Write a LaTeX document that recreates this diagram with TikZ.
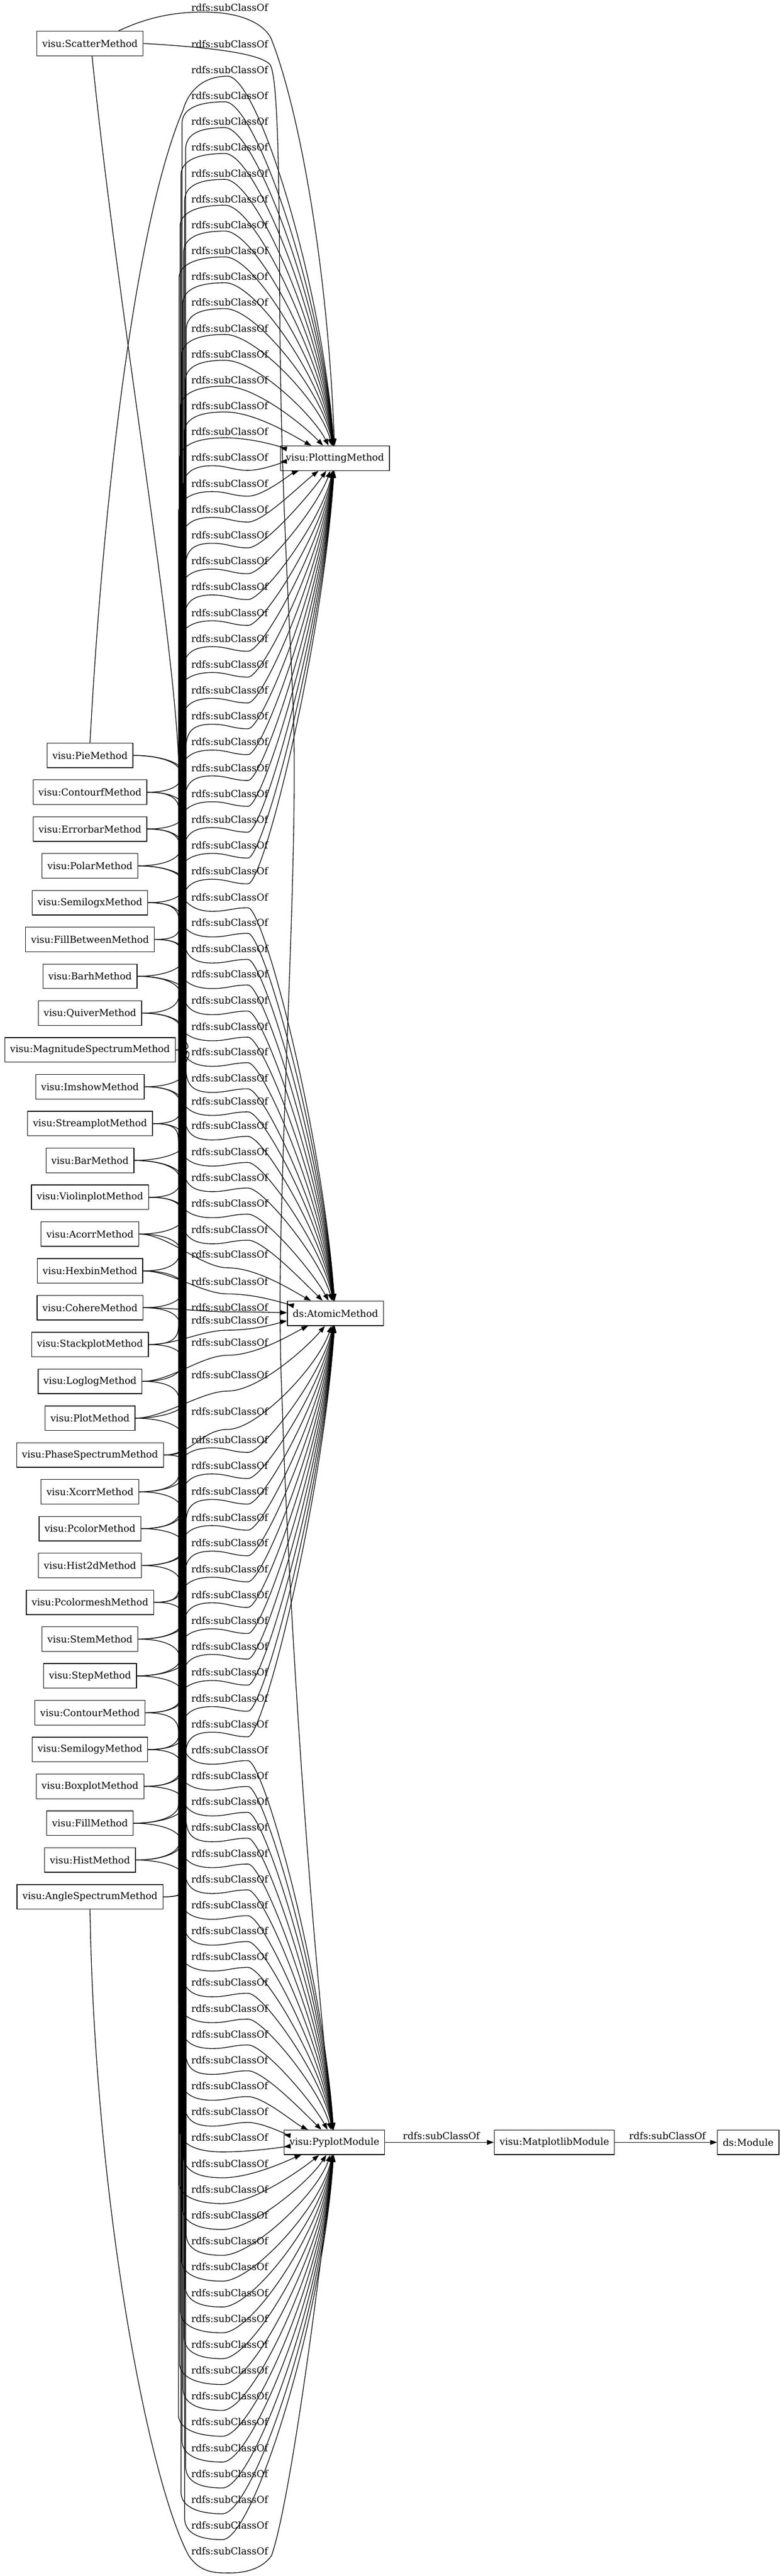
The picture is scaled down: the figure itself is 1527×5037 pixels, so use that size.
\documentclass[tikz,border=0pt]{standalone}
\usepackage{fontspec}
\setmainfont{DejaVu Serif}
\usetikzlibrary{arrows.meta,calc}
% #1 source node, #2 source y, #3 label y, #4 target node, #5 target y, #6 bundle x
% edge that climbs the bundle (its label lies above the source)
\newcommand{\upedge}[6]{%
  \pgfmathsetmacro\gdz{#5-#3-14}%
  \ifdim\gdz pt<0pt
    \pgfmathsetmacro\gyA{#3+16}%
  \else
    \pgfmathsetmacro\gyA{#3+12}%
  \fi
  \pgfmathsetmacro\gdy{#5-\gyA}%
  \pgfmathsetmacro\gcx{630-80*max(0,1-abs(\gdy)/250)}%
  \pgfmathsetmacro\gcy{#5-0.45*\gdy}%
  \ifdim\gdz pt<0pt
    \draw[rel] (#1.east) .. controls +(45,0) and (#6,#2-12) .. (#6,#2-36) -- (#6,\gyA+40) .. controls (#6+2,\gyA+12) and (380,\gyA) .. (415,\gyA) .. controls (445,\gyA) and (455,\gyA+9) .. (485,\gyA+9) .. controls (515,\gyA+9) and (\gcx,\gcy) .. (#4);%
  \else
    \draw[rel] (#1.east) .. controls +(45,0) and (#6,#2-12) .. (#6,#2-36) -- (#6,\gyA+40) .. controls (#6+2,\gyA+12) and (390,\gyA) .. (440,\gyA) .. controls (500,\gyA) and (\gcx,\gcy) .. (#4);%
  \fi
}
% edge that descends the bundle (its label lies below the source)
\newcommand{\downedge}[6]{%
  \pgfmathsetmacro\gyA{#3+28}%
  \pgfmathsetmacro\gdy{#5-\gyA}%
  \pgfmathsetmacro\gcx{630-80*max(0,1-abs(\gdy)/250)}%
  \pgfmathsetmacro\gcy{#5-0.45*\gdy}%
  \ifdim\gdy pt>0pt
    \draw[rel] (#1.east) .. controls +(45,0) and (#6,#2+12) .. (#6,#2+36) -- (#6,\gyA-40) .. controls (#6+2,\gyA-12) and (380,\gyA) .. (415,\gyA) .. controls (445,\gyA) and (455,\gyA-7) .. (485,\gyA-7) .. controls (515,\gyA-7) and (\gcx,\gcy) .. (#4);%
  \else
    \draw[rel] (#1.east) .. controls +(45,0) and (#6,#2+12) .. (#6,#2+36) -- (#6,\gyA-40) .. controls (#6+2,\gyA-12) and (390,\gyA) .. (435,\gyA) .. controls (495,\gyA) and (\gcx,\gcy) .. (#4);%
  \fi
}
% #1 source node, #2 edge y under label, #3 target node, #4 target y
\newcommand{\diredge}[4]{%
  \pgfmathsetmacro\gdy{#4-#2}%
  \pgfmathsetmacro\gcx{630-80*max(0,1-abs(\gdy)/250)}%
  \pgfmathsetmacro\gcy{#4-0.45*\gdy}%
  \draw[rel] (#1.east) .. controls +(55,0) and (395,#2) .. (445,#2) .. controls (505,#2) and (\gcx,\gcy) .. (#3);%
}
\begin{document}
\begin{tikzpicture}[x=0.75pt,y=-0.75pt,
  gbox/.style={draw,line width=1pt,minimum height=36pt,inner xsep=7.92pt,inner ysep=0pt,font=\fontsize{14pt}{16.8pt}\selectfont},
  lbl/.style={inner sep=0pt,font=\fontsize{14pt}{16.8pt}\selectfont},
  rel/.style={line width=1pt,-{Triangle[length=10pt,width=7pt]}}]
\useasboundingbox (0,0) rectangle (1527,5037);

% ---------- nodes ----------
\node[gbox] (nscat) at (176,85) {visu:ScatterMethod};
\foreach \r/\nm in {0/Pie,1/Contourf,2/Errorbar,3/Polar,4/Semilogx,5/FillBetween,6/Barh,7/Quiver,8/MagnitudeSpectrum,9/Imshow,10/Streamplot,11/Bar,12/Violinplot,13/Acorr,14/Hexbin,15/Cohere,16/Stackplot,17/Loglog,18/Plot,19/PhaseSpectrum,20/Xcorr,21/Pcolor,22/Hist2d,23/Pcolormesh,24/Stem,25/Step,26/Contour,27/Semilogy,28/Boxplot,29/Fill,30/Hist,31/AngleSpectrum}{
  \node[gbox] (m\r) at (176,{1477+72*\r}) {visu:\nm Method};
}
\node[gbox] (nplot) at (655,896) {visu:PlottingMethod};
\node[gbox] (natom) at (656,2568) {ds:AtomicMethod};
\node[gbox] (npy) at (654,4189) {visu:PyplotModule};
\node[gbox] (nmat) at (1084,4189) {visu:MatplotlibModule};
\node[gbox] (nmod) at (1463,4189) {ds:Module};

% ---------- chain on the right ----------
\draw[rel] (npy) -- (nmat);
\draw[rel] (nmat) -- (nmod);
\node[lbl] (lc1) at (863,4176) {rdfs:subClassOf};
\node[lbl] (lc2) at (1305,4176) {rdfs:subClassOf};

% ---------- ScatterMethod edges ----------
\draw[rel] ($(nscat.north)+(56,0)$) .. controls (300,28) and (360,22) .. (413,24) .. controls (470,26) and (515,45) .. (530,75) .. controls (580,200) and (640,500) .. (nplot);
\node[lbl] (ls1) at (449,15) {rdfs:subClassOf};
\draw[rel] (nscat.east) .. controls (420,93) and (505,105) .. (527,125) .. controls (542,140) and (546,300) .. (547,600) .. controls (549,900) and (560,1100) .. (572,1350) .. controls (584,1600) and (560,2000) .. (551,2350) .. controls (545,2550) and (548,2650) .. (552,2750) .. controls (560,3000) and (590,3600) .. (npy);
\node[lbl] (ls2) at (449,86) {rdfs:subClassOf};
\draw[rel] ($(nscat.south)+(4,0)$) .. controls (230,600) and (335,1200) .. (349,1480) -- (349,1722) .. controls (351,1765) and (380,1782) .. (415,1782) .. controls (445,1782) and (455,1775) .. (485,1775) .. controls (515,1775) and (630,2214) .. (natom);
\node[lbl] (ls3) at (449,1754) {rdfs:subClassOf};

% ---------- PlottingMethod group ----------
\draw[rel] (m0.north) .. controls (200,1000) and (262,440) .. (358,215) .. controls (368,180) and (395,149) .. (445,149) .. controls (505,149) and (630,561) .. (nplot);
\node[lbl] (lp0) at (449,137) {rdfs:subClassOf};
\foreach \r in {1,...,31}{
  \pgfmathsetmacro\gyl{86+50.54*(\r+1)}
  \pgfmathtruncatemacro\gxb{349+mod(7*\r,16)}
  \upedge{m\r}{1477+72*\r}{\gyl}{nplot}{896}{\gxb}
  \node[lbl] (lp\r) at (449,\gyl) {rdfs:subClassOf};
}

% ---------- AtomicMethod group ----------
\foreach \r/\yl in {0/1804,1/1855,2/1905,3/1956,4/2007,5/2057,6/2108,7/2153,8/2201,9/2252,10/2302,11/2353,12/2404}{
  \pgfmathtruncatemacro\gxb{349+mod(7*\r+5,16)}
  \downedge{m\r}{1477+72*\r}{\yl}{natom}{2568}{\gxb}
  \node[lbl] (la\r) at (449,\yl) {rdfs:subClassOf};
}
\foreach \r/\yl/\ya in {13/2453/2479,14/2506/2530,15/2556/2565,16/2582/2601,17/2625/2650,18/2688/2720,19/2760/2795}{
  \diredge{m\r}{\ya}{natom}{2568}
  \node[lbl] (la\r) at (449,\yl) {rdfs:subClassOf};
}
\foreach \r/\yl in {20/2815,21/2866,22/2916,23/2967,24/3017,25/3068,26/3118,27/3169,28/3219,29/3270,30/3321,31/3371}{
  \pgfmathtruncatemacro\gxb{349+mod(7*\r+5,16)}
  \upedge{m\r}{1477+72*\r}{\yl}{natom}{2568}{\gxb}
  \node[lbl] (la\r) at (449,\yl) {rdfs:subClassOf};
}

% ---------- PyplotModule group ----------
\foreach \r in {0,...,30}{
  \pgfmathsetmacro\gyl{3421.64+50.54*\r}
  \pgfmathtruncatemacro\gxb{349+mod(7*\r+10,16)}
  \downedge{m\r}{1477+72*\r}{\gyl}{npy}{4189}{\gxb}
  \node[lbl] (ly\r) at (449,\gyl) {rdfs:subClassOf};
}
\draw[rel] (m31.south) .. controls (185,4300) and (290,4850) .. (369,4997) .. controls (392,5031) and (420,5031) .. (449,5031) .. controls (485,5031) and (515,5020) .. (531,4997) .. controls (565,4900) and (620,4500) .. (npy);
\node[lbl] (ly31) at (449,4988) {rdfs:subClassOf};
\end{tikzpicture}
\end{document}
